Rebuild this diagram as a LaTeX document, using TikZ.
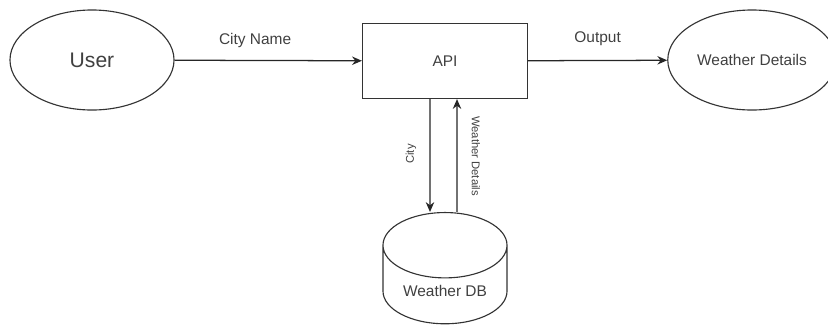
\documentclass[tikz,border=0pt]{standalone}
\usepackage{fontspec}
\setmainfont{Liberation Sans}
\usetikzlibrary{arrows.meta, positioning, shapes.geometric}

\tikzset{
  actor/.style={draw=black!80, ellipse, line width=0.8pt, text=black!75},
  proc/.style={draw=black!80, rectangle, line width=0.8pt, text=black!75,
    minimum width=4.125cm, minimum height=1.875cm},
  store/.style={draw=black!80, cylinder, shape border rotate=90, aspect=0.7,
    line width=0.8pt, text=black!75, minimum width=3.1cm, minimum height=2.78cm},
  flow/.style={-{Stealth[length=7pt,width=6pt]}, line width=0.9pt, draw=black!85},
  lbl/.style={font=\fontsize{11}{13}\selectfont, text=black!75},
  tinylbl/.style={font=\fontsize{8}{10}\selectfont, text=black!75}
}

\begin{document}
\begin{tikzpicture}[x=0.025cm, y=-0.025cm]
  \useasboundingbox (0,0) rectangle (828,324);

  % main nodes
  \node[actor, minimum width=4.1cm, minimum height=2.5cm, font=\fontsize{15}{17}\selectfont] (user) at (92,60) {User};
  \node[proc, font=\fontsize{11}{13}\selectfont] (api) at (445,61) {API};
  \node[actor, minimum width=3.8cm, minimum height=2.5cm, font=\fontsize{11}{13}\selectfont] (details) at (752,60) {Weather Details};
  \node[store, font=\fontsize{11}{13}\selectfont] (db) at (445,291) {Weather DB};

  % flow labels
  \node[tinylbl, rotate=90] (citylbl) at (411,154) {City};
  \node[tinylbl, rotate=-90] (detlbl) at (476,156) {Weather Details};

  % flows
  \draw[flow] (user) -- node[lbl, pos=0.43, above=5pt] {City Name} (api);
  \draw[flow] (api) -- node[lbl, above=7pt] {Output} (details);
  \draw[flow] ([xshift=-0.375cm]api.south) -- ([xshift=-0.375cm]db.north);
  \draw[flow] ([xshift=0.3cm]db.north) -- ([xshift=0.3cm]api.south);
\end{tikzpicture}
\end{document}
